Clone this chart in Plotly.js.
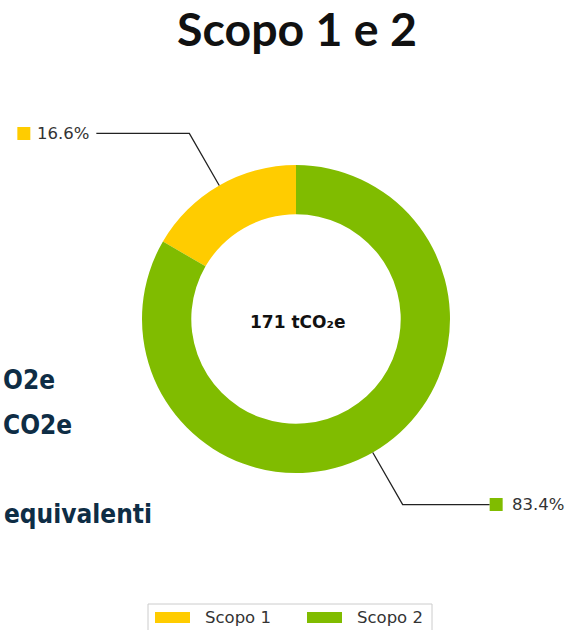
<!DOCTYPE html>
<html>
<head>
<meta charset="utf-8">
<script src="https://cdn.plot.ly/plotly-3.0.1.min.js"></script>
<style>html,body{margin:0;padding:0;background:#fff;}#chart{width:572px;height:630px;}</style>
</head>
<body>
<div id="chart"></div>
<script>
const labels = ['Scopo 1', 'Scopo 2'];
const values = [28.4, 142.6];
const colors = ['#FFCC00', '#80BC00'];
const unit = 'tCO₂e';
const titleText = 'Scopo 1 e 2';
const sideFragments = ['O2e', 'CO2e', 'equivalenti'];

const W = 572, H = 630;
const cxPx = 296, cyPx = 319, R = 154;
const px = x => x / W;
const py = y => 1 - y / H;

const total = values.reduce((a, b) => a + b, 0);
const pcts = values.map(v => (100 * v / total).toFixed(1) + '%');

const shapes = [];
const annotations = [];

// leader lines + outside labels
let cum = 0;
values.forEach((v, i) => {
  const frac = v / total;
  const mid = (cum + frac / 2) * 2 * Math.PI; // counterclockwise from 12 o'clock
  cum += frac;
  const sx = cxPx - R * Math.sin(mid), sy = cyPx - R * Math.cos(mid);
  const ex = cxPx - (R + 60) * Math.sin(mid), ey = cyPx - (R + 60) * Math.cos(mid);
  const left = Math.sin(mid) > 0;
  const hx = left ? ex - 93 : ex + 87;
  shapes.push({type: 'path', xref: 'paper', yref: 'paper',
    path: `M ${px(sx)},${py(sy)} L ${px(ex)},${py(ey)} L ${px(hx)},${py(ey)}`,
    line: {color: '#222', width: 1.3}});
  let sqx0, tx;
  if (left) { sqx0 = hx - 79; tx = sqx0 + 18; }
  else { sqx0 = hx; tx = sqx0 + 20; }
  shapes.push({type: 'rect', xref: 'paper', yref: 'paper',
    x0: px(sqx0), x1: px(sqx0 + 13), y0: py(ey + 6.5), y1: py(ey - 6.5),
    fillcolor: colors[i], line: {width: 0}});
  annotations.push({xref: 'paper', yref: 'paper', x: px(tx), y: py(ey), xanchor: 'left', yanchor: 'middle',
    text: pcts[i], showarrow: false, font: {family: 'DejaVu Sans', size: 16.5, color: '#333'}});
});

// center label
annotations.push({xref: 'paper', yref: 'paper', x: px(cxPx + 1), y: py(cyPx + 3), xanchor: 'center', yanchor: 'middle',
  text: '<b>' + Math.round(total) + ' ' + unit + '</b>', showarrow: false,
  font: {family: 'DejaVu Sans', size: 17, color: '#111'}});

// title
annotations.push({xref: 'paper', yref: 'paper', x: px(297), y: py(28), xanchor: 'center', yanchor: 'middle',
  text: '<b>' + titleText + '</b>', showarrow: false,
  font: {family: 'Lato', size: 46.5, color: '#111'}});

// custom legend
shapes.push({type: 'rect', xref: 'paper', yref: 'paper', x0: px(148), x1: px(432), y0: py(640), y1: py(604),
  line: {color: '#cccccc', width: 1}, fillcolor: 'rgba(0,0,0,0)'});
const legX = [155, 307];
labels.forEach((l, i) => {
  shapes.push({type: 'rect', xref: 'paper', yref: 'paper', x0: px(legX[i]), x1: px(legX[i] + 35),
    y0: py(623), y1: py(612), fillcolor: colors[i], line: {width: 0}});
  annotations.push({xref: 'paper', yref: 'paper', x: px(legX[i] + 48), y: py(617), xanchor: 'left', yanchor: 'middle',
    text: l, showarrow: false, font: {family: 'DejaVu Sans', size: 16.5, color: '#333'}});
});

// cropped fragments of surrounding slide text
const fragPos = [[1, 380], [1, 425], [2, 514]];
sideFragments.forEach((t, i) => {
  annotations.push({xref: 'paper', yref: 'paper', x: px(fragPos[i][0]), y: py(fragPos[i][1]), xanchor: 'left', yanchor: 'middle',
    text: '<b>' + t + '</b>', showarrow: false,
    font: {family: 'DejaVu Sans Condensed, DejaVu Sans, sans-serif', size: 26, color: '#0E2D45'}});
});

const data = [{
  type: 'pie',
  labels: labels,
  values: values,
  hole: 0.68,
  sort: false,
  direction: 'clockwise',
  rotation: -360 * values[0] / total,
  textinfo: 'none',
  hoverinfo: 'label+percent',
  marker: {colors: colors, line: {color: '#ffffff', width: 0}},
  domain: {x: [px(cxPx - R), px(cxPx + R)], y: [py(cyPx + R), py(cyPx - R)]},
  showlegend: false
}];

const layout = {
  width: W, height: H,
  margin: {l: 0, r: 0, t: 0, b: 0},
  paper_bgcolor: '#ffffff',
  showlegend: false,
  shapes: shapes,
  annotations: annotations
};

Plotly.newPlot('chart', data, layout, {displayModeBar: false, staticPlot: true});
</script>
</body>
</html>
